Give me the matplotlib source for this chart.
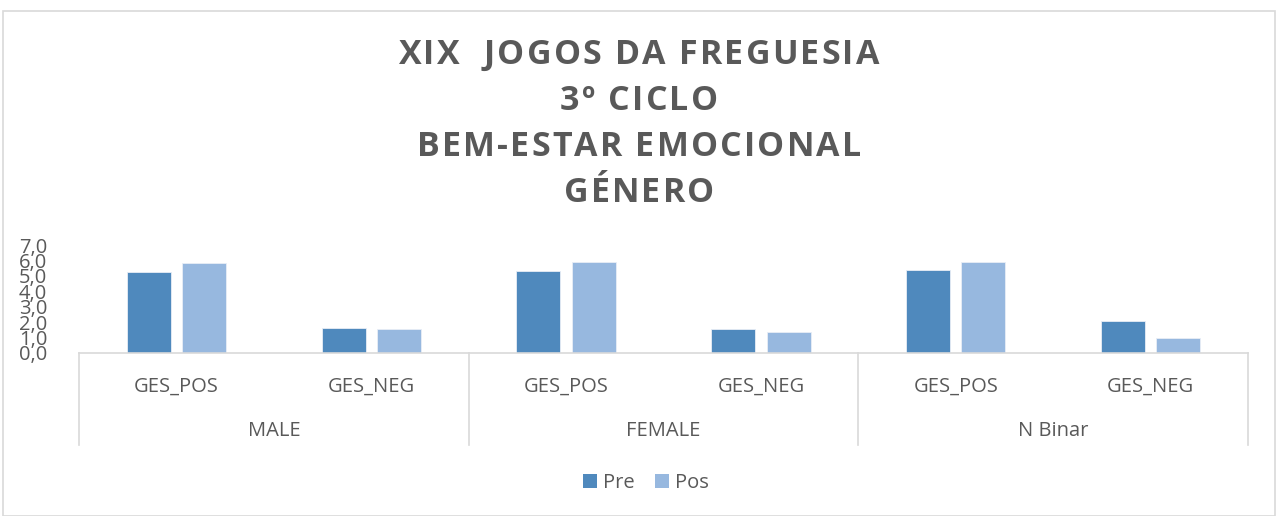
import matplotlib
matplotlib.use("Agg")
import matplotlib.pyplot as plt
import matplotlib.transforms as mtransforms
from matplotlib.patches import Rectangle, Patch

# ---- data ----
groups = ["MALE", "FEMALE", "N Binar"]
subcats = ["GES_POS", "GES_NEG"]
pre = [5.27, 1.59, 5.32, 1.52, 5.40, 2.06]
pos = [5.82, 1.52, 5.92, 1.37, 5.90, 0.94]
series_names = ["Pre", "Pos"]
yticks = [0, 1, 2, 3, 4, 5, 6, 7]
title_lines = ["XIX  JOGOS DA FREGUESIA", "3º CICLO", "BEM-ESTAR EMOCIONAL", "GÉNERO"]

W, H = 1278, 516
C_PRE = "#4f89bd"
C_POS = "#97b8df"
TXT = "#595959"
GRID = "#d9d9d9"
FONT = "Open Sans"

fig = plt.figure(figsize=(W / 100, H / 100), dpi=100)
fig.patch.set_facecolor("white")

# outer chart border
fig.patches.append(Rectangle((3 / W, 0), (W - 6) / W, (H - 10.5) / H, transform=fig.transFigure,
                             fill=False, edgecolor=GRID, linewidth=1.2))

left, right = 79, 1248
top, base = 245.3, 352.7
ax = fig.add_axes([left / W, 1 - base / H, (right - left) / W, (base - top) / H])

n = len(pre)
x = list(range(n))
bw = 0.226
off = 0.142
ax.bar([i - off for i in x], pre, width=bw, color=C_PRE, edgecolor="#e8eef6", linewidth=0.6, label=series_names[0])
ax.bar([i + off for i in x], pos, width=bw, color=C_POS, edgecolor="#e8eef6", linewidth=0.6, label=series_names[1])

ax.set_xlim(-0.5, n - 0.5)
ax.set_ylim(0, 7)
ax.set_yticks(yticks)
ax.set_yticklabels([f"{v:.1f}".replace(".", ",") for v in yticks], fontsize=14.5, color=TXT, family=FONT)
ax.tick_params(axis="y", length=0, pad=23)
ax.set_xticks(x)
ax.set_xticklabels(subcats * len(groups), fontsize=14.5, color=TXT, family=FONT)
ax.tick_params(axis="x", length=0, pad=17)
for s in ["top", "right", "left"]:
    ax.spines[s].set_visible(False)
ax.spines["bottom"].set_color(GRID)
ax.spines["bottom"].set_linewidth(1.2)

trans = mtransforms.blended_transform_factory(ax.transData, ax.transAxes)
ah = base - top
sep_bottom = -(445 - base) / ah
for k in range(len(groups) + 1):
    xs = -0.5 + 2 * k
    ax.plot([xs, xs], [0, sep_bottom], transform=trans, color=GRID, lw=1.2, clip_on=False)
for k, g in enumerate(groups):
    ax.text(2 * k + 0.5, -(431 - base) / ah, g, transform=trans, ha="center", va="center",
            fontsize=14.5, color=TXT, family=FONT)

# title with letter spacing (drawn char by char)
renderer = fig.canvas.get_renderer()
ys = [55, 101, 147, 193]
TS = 24.5
spacing = 2.2  # extra px between letters
for line, yy in zip(title_lines, ys):
    widths = []
    for ch in line:
        t = fig.text(0, 0, ch if ch != " " else "a", fontsize=TS, fontweight="bold", family=FONT)
        w = t.get_window_extent(renderer).width
        if ch == " ":
            t2 = fig.text(0, 0, "a a", fontsize=TS, fontweight="bold", family=FONT)
            w = t2.get_window_extent(renderer).width - 2 * w
            t2.remove()
        t.remove()
        widths.append(w)
    total = sum(widths) + spacing * (len(line) - 1)
    xcur = W / 2 - total / 2
    for ch, w in zip(line, widths):
        if ch != " ":
            fig.text(xcur / W, 1 - yy / H, ch, ha="left", va="center", fontsize=TS,
                     fontweight="bold", color=TXT, family=FONT)
        xcur += w + spacing

handles = [Patch(facecolor=C_PRE), Patch(facecolor=C_POS)]
leg = fig.legend(handles, series_names, loc="center", bbox_to_anchor=(646 / W, 1 - 483 / H), ncol=2,
                 frameon=False, handlelength=0.7, handleheight=0.7, handletextpad=0.3, columnspacing=1.0,
                 prop={"family": FONT, "size": 14.5})
for t in leg.get_texts():
    t.set_color(TXT)

fig.savefig("out.png", dpi=100, facecolor="white")
